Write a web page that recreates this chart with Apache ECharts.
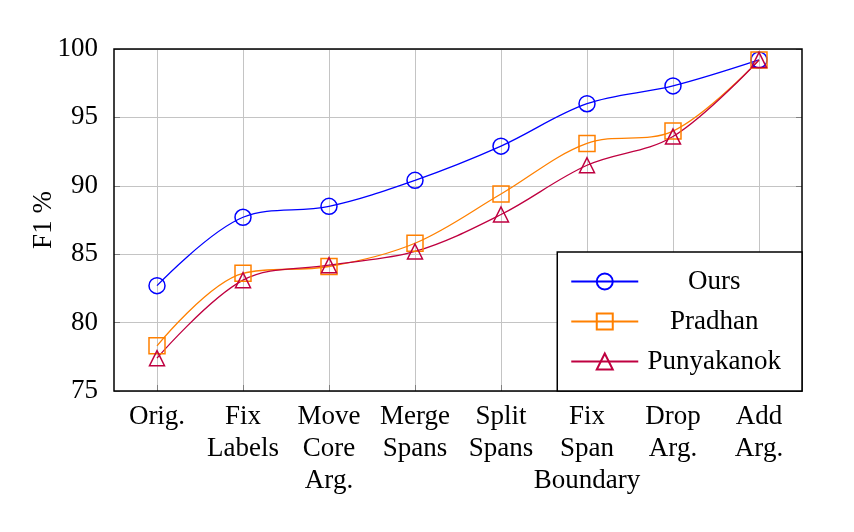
<!DOCTYPE html>
<html><head><meta charset="utf-8">
<script src="https://cdn.jsdelivr.net/npm/echarts@6/dist/echarts.min.js"></script>
<style>html,body{margin:0;padding:0;background:#fff}#c{width:854px;height:532px}</style>
</head><body><div id="c"></div>
<script>
const categories = ['Orig.', 'Fix\nLabels', 'Move\nCore\nArg.', 'Merge\nSpans', 'Split\nSpans', 'Fix\nSpan\nBoundary', 'Drop\nArg.', 'Add\nArg.'];
const ours       = [82.7, 87.7, 88.5, 90.4, 92.9, 96.0, 97.3, 99.2];
const pradhan    = [78.3, 83.6, 84.1, 85.8, 89.4, 93.1, 94.0, 99.2];
const punyakanok = [77.4, 83.1, 84.2, 85.2, 87.9, 91.5, 93.6, 99.2];
const yTicks = [75, 80, 85, 90, 95, 100];

const font = 'Liberation Serif';
function mk(name, data, color, symbol, size) {
  return {
    name, type: 'line', data, smooth: 0.35, symbol, symbolSize: size,
    lineStyle: {color, width: 1.3},
    itemStyle: {color: 'none', borderColor: color, borderWidth: 1.5},
    emphasis: {disabled: true}
  };
}
const yMin = yTicks[0], yMax = yTicks[yTicks.length - 1];
const chart = echarts.init(document.getElementById('c'), null, {renderer: 'canvas'});
chart.setOption({
  animation: false,
  backgroundColor: '#fff',
  grid: {left: 114, right: 52, top: 49, bottom: 141, show: true, borderColor: '#000', borderWidth: 1.5, backgroundColor: 'transparent', z: 10},
  xAxis: {
    type: 'category', data: categories, boundaryGap: true,
    axisLine: {show: false},
    axisTick: {show: true, inside: true, alignWithLabel: true, length: 6, lineStyle: {color: '#808080'}},
    splitLine: {show: true, alignWithLabel: true, lineStyle: {color: '#c4c4c4', width: 1}},
    axisLabel: {fontFamily: font, fontSize: 27, color: '#000', lineHeight: 32, margin: 10, interval: 0, verticalAlign: 'top'}
  },
  yAxis: [{
    type: 'value', min: yMin, max: yMax, interval: 5,
    name: 'F1 %', nameLocation: 'middle', nameGap: 57, nameMoveOverlap: false,
    nameTextStyle: {fontFamily: font, fontSize: 27, color: '#000'},
    axisLine: {show: false},
    axisTick: {show: true, inside: true, length: 6, lineStyle: {color: '#808080'}},
    splitLine: {show: true, lineStyle: {color: '#c4c4c4', width: 1}},
    axisLabel: {fontFamily: font, fontSize: 27, color: '#000', margin: 16}
  }, {
    type: 'value', min: yMin, max: yMax, interval: 5, position: 'right',
    axisLine: {show: false},
    axisTick: {show: true, inside: true, length: 6, lineStyle: {color: '#808080'}},
    splitLine: {show: false},
    axisLabel: {show: false}
  }],
  legend: {
    orient: 'vertical', right: 52, bottom: 141,
    itemWidth: 67, itemHeight: 20, itemGap: 13,
    padding: [16, 21, 16, 13],
    borderColor: '#000', borderWidth: 1.5, backgroundColor: '#fff',
    formatter: '{a|{name}}',
    textStyle: {fontFamily: font, fontSize: 27, color: '#000',
      rich: {a: {width: 142, align: 'center', fontFamily: font, fontSize: 27, color: '#000'}}},
    data: ['Ours', 'Pradhan', 'Punyakanok'],
    z: 20
  },
  series: [
    mk('Ours', ours, '#0000ff', 'circle', 16),
    mk('Pradhan', pradhan, '#ff8000', 'rect', 16),
    mk('Punyakanok', punyakanok, '#bf0040', 'triangle', 15)
  ]
});
</script></body></html>
